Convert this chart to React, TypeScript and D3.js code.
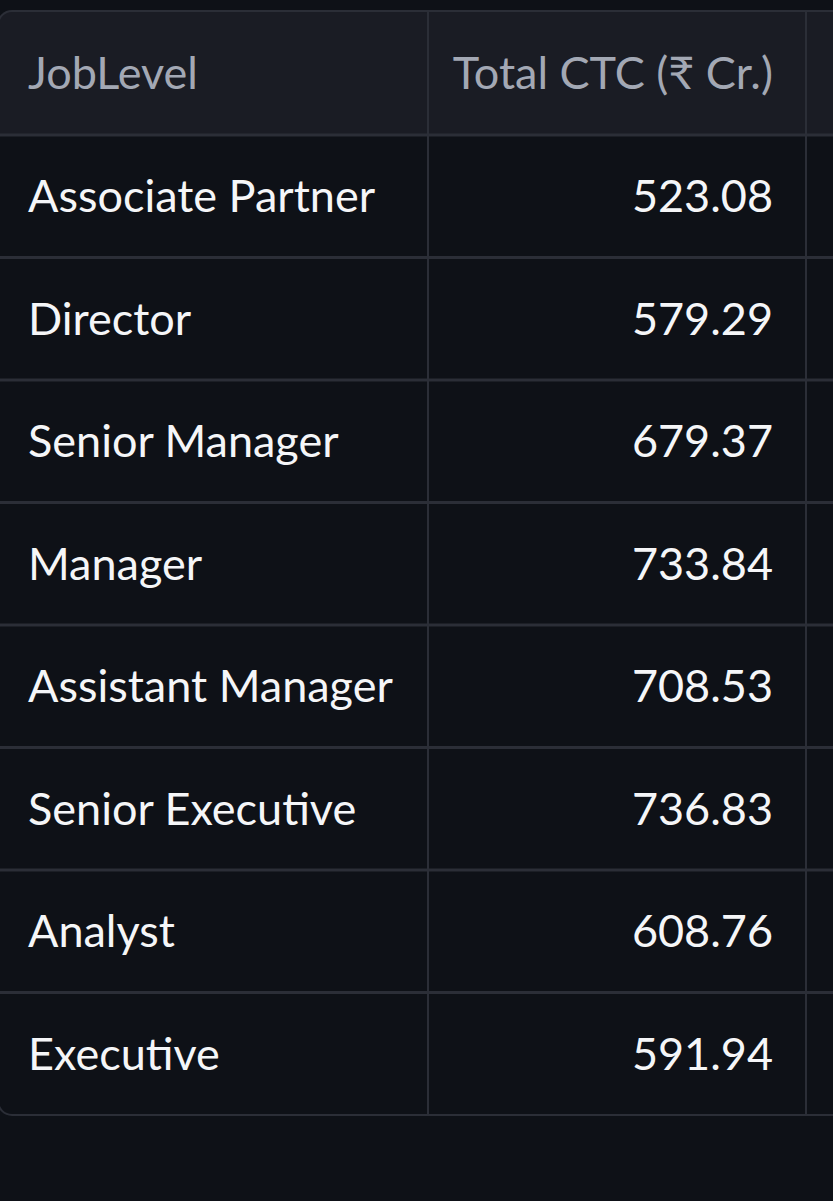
import * as d3 from "d3";

const jobLevels = [
  "Associate Partner",
  "Director",
  "Senior Manager",
  "Manager",
  "Assistant Manager",
  "Senior Executive",
  "Analyst",
  "Executive",
];
const totalCtc = [523.08, 579.29, 679.37, 733.84, 708.53, 736.83, 608.76, 591.94];
const headers = ["JobLevel", "Total CTC (₹ Cr.)"];

const W = 833;
const H = 1201;
const top = 11;
const headerH = 124;
const rowH = 122.5;
const col1 = 428;
const col2 = 806;

export default function App() {
  const y = d3
    .scaleBand<string>()
    .domain(jobLevels)
    .range([top + headerH, top + headerH + rowH * jobLevels.length]);
  const bottom = top + headerH + rowH * jobLevels.length;
  const line = "#2b2e37";
  const font = "Lato, 'Noto Sans', sans-serif";
  const fs = 45;

  return (
    <svg
      width={W}
      height={H}
      style={{ position: "absolute", left: 0, top: 0, background: "#0e1117" }}
    >
      <rect x={-20} y={0} width={W + 40} height={H} fill="#0e1117" />
      <path d={`M-2,${top + headerH} V${top + 14} Q-2,${top} 12,${top} H${W + 10} V${top + headerH} Z`} fill="#1a1c24" />
      <rect x={-2} y={top} width={W + 40} height={bottom - top} rx={14} fill="none" stroke={line} strokeWidth={2} />
      {jobLevels.map((j) => (
        <line key={j} x1={0} x2={W} y1={y(j)!} y2={y(j)!} stroke={line} strokeWidth={3} />
      ))}
      {[col1, col2].map((x) => (
        <line key={x} x1={x} x2={x} y1={top} y2={bottom} stroke={line} strokeWidth={2} />
      ))}
      <text x={28} y={top + headerH / 2 + 16} fill="#a3a8b4" fontSize={fs} fontFamily={font}>
        {headers[0]}
      </text>
      <text x={773} y={top + headerH / 2 + 16} fill="#a3a8b4" fontSize={fs} fontFamily={font} textAnchor="end">
        {headers[1]}
      </text>
      {jobLevels.map((j, i) => (
        <g key={j} fontSize={fs} fontFamily={font} fill="#f5f6f8">
          <text x={28} y={y(j)! + y.bandwidth() / 2 + 16}>{j}</text>
          <text x={773} y={y(j)! + y.bandwidth() / 2 + 16} textAnchor="end">
            {totalCtc[i].toFixed(2)}
          </text>
        </g>
      ))}
    </svg>
  );
}
